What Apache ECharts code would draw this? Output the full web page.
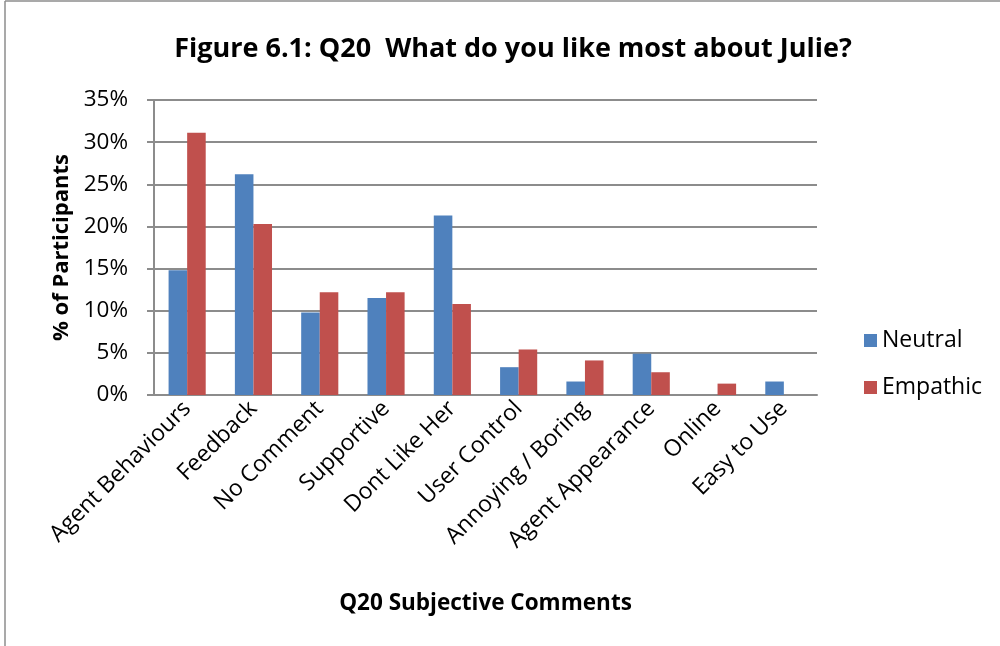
<!DOCTYPE html>
<html>
<head>
<meta charset="utf-8">
<script src="https://cdn.jsdelivr.net/npm/echarts@6/dist/echarts.min.js"></script>
<style>
html,body{margin:0;padding:0;background:#fff;}
#chart{width:1000px;height:646px;}
</style>
</head>
<body>
<div id="chart"></div>
<script>
const categories = ["Agent Behaviours","Feedback","No Comment","Supportive","Dont Like Her","User Control","Annoying / Boring","Agent Appearance","Online","Easy to Use"];
const neutral = [14.8, 26.2, 9.8, 11.5, 21.3, 3.3, 1.6, 4.9, 0, 1.6];
const empathic = [31.1, 20.3, 12.2, 12.2, 10.8, 5.4, 4.1, 2.7, 1.35, 0];
const yTicks = {min: 0, max: 35, interval: 5};
const titleText = "Figure 6.1: Q20  What do you like most about Julie?";
const xTitle = "Q20 Subjective Comments";
const yTitle = "% of Participants";

const FONT = "Open Sans";
const chart = echarts.init(document.getElementById('chart'), null, {renderer: 'canvas'});
chart.setOption({
  animation: false,
  backgroundColor: '#ffffff',
  textStyle: {fontFamily: FONT},
  title: {
    text: titleText,
    left: 508, top: 31, textAlign: 'center',
    textStyle: {fontFamily: FONT, fontWeight: 'bold', fontSize: 27, color: '#000'}
  },
  legend: {
    orient: 'vertical', left: 859, top: 324,
    icon: 'rect', itemWidth: 13, itemHeight: 13, itemGap: 24,
    textStyle: {fontFamily: FONT, fontSize: 23, color: '#000'},
    data: ['Neutral', 'Empathic']
  },
  grid: {left: 154, right: 183, top: 100, bottom: 251},
  xAxis: {
    type: 'category', data: categories,
    name: xTitle, nameLocation: 'middle', nameGap: 197,
    nameTextStyle: {fontFamily: FONT, fontWeight: 'bold', fontSize: 22.5, color: '#000'},
    axisLine: {lineStyle: {color: '#8c8c8c', width: 2}},
    axisTick: {show: false},
    axisLabel: {rotate: 45, interval: 0, margin: 10, fontFamily: FONT, fontSize: 23, color: '#000'}
  },
  yAxis: {
    type: 'value', min: yTicks.min, max: yTicks.max, interval: yTicks.interval,
    name: yTitle, nameLocation: 'middle', nameGap: 80,
    nameTextStyle: {fontFamily: FONT, fontWeight: 'bold', fontSize: 22, color: '#000'},
    axisLine: {show: true, lineStyle: {color: '#8c8c8c', width: 2}},
    axisTick: {show: true, length: 7, lineStyle: {color: '#8c8c8c', width: 2}},
    axisLabel: {formatter: '{value}%', margin: 26, fontFamily: FONT, fontSize: 22.5, color: '#000'},
    splitLine: {lineStyle: {color: '#8c8c8c', width: 2}}
  },
  series: [
    {name: 'Neutral', type: 'bar', data: neutral, barGap: '0%', barCategoryGap: '44%',
     itemStyle: {color: '#4F81BD'}},
    {name: 'Empathic', type: 'bar', data: empathic, barGap: '0%', barCategoryGap: '44%',
     itemStyle: {color: '#C0504D'}}
  ],
  graphic: [
    {type: 'line', shape: {x1: 5, y1: 1, x2: 5, y2: 646}, style: {stroke: '#8c8c8c', lineWidth: 1.5}},
    {type: 'line', shape: {x1: 5, y1: 1, x2: 1000, y2: 1}, style: {stroke: '#8c8c8c', lineWidth: 1.5}}
  ]
});
</script>
</body>
</html>
